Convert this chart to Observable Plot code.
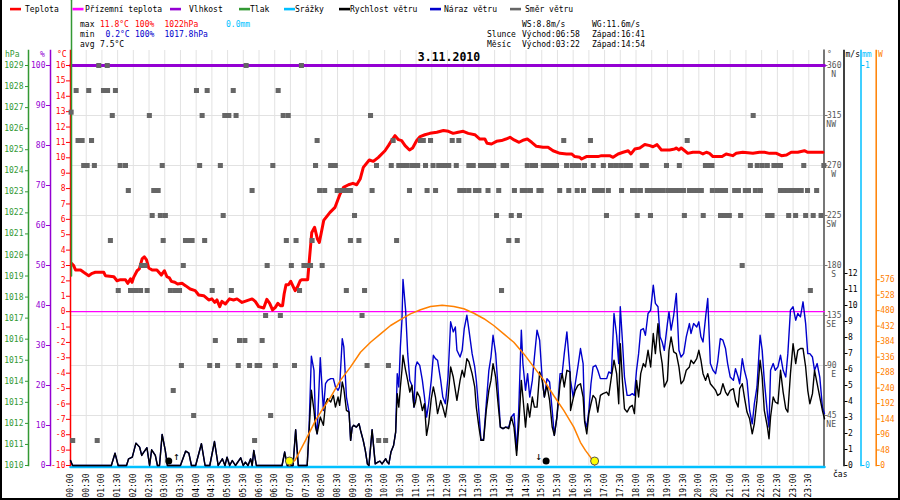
<!DOCTYPE html>
<html><head><meta charset="utf-8">
<script src="https://cdn.jsdelivr.net/npm/d3@7"></script>
<script src="https://cdn.jsdelivr.net/npm/@observablehq/plot@0.6"></script>
<style>
body{margin:0;background:#fff;}
#wrap{position:relative;width:900px;height:500px;overflow:hidden;background:#fff;}
#wrap > svg{position:absolute;left:0;top:0;}
#border{position:absolute;left:0;top:0;width:896px;height:498px;border-left:2px solid #000;border-right:2px solid #000;border-bottom:2px solid #000;pointer-events:none;}
</style></head><body><div id="wrap"><div id="border"></div></div>
<script>
// ---------------- DATA ----------------
const tickHours = [0,0.5,1,1.5,2,2.5,3,3.5,4,4.5,5,5.5,6,6.5,7,7.5,8,8.5,9,9.5,10,10.5,11,11.5,12,12.5,13,13.5,14,14.5,15,15.5,16,16.5,17,17.5,18,18.5,19,19.5,20,20.5,21,21.5,22,22.5,23,23.5];
const timeLabels = ["00:00","00:30","01:00","01:30","02:00","02:30","03:00","03:30","04:00","04:30","05:00","05:30","06:00","06:30","07:00","07:30","08:00","08:30","09:00","09:30","10:00","10:30","11:00","11:30","12:00","12:30","13:00","13:30","14:00","14:30","15:00","15:30","16:00","16:30","17:00","17:30","18:00","18:30","19:00","19:30","20:00","20:30","21:00","21:30","22:00","22:30","23:00","23:30"];
const tempTicks = [-10,-9,-8,-7,-6,-5,-4,-3,-2,-1,0,1,2,3,4,5,6,7,8,9,10,11,12,13,14,15,16];
const humTicks = [0,10,20,30,40,50,60,70,80,90,100];
const pressTicks = [1010,1011,1012,1013,1014,1015,1016,1017,1018,1019,1020,1021,1022,1023,1024,1025,1026,1027,1028,1029];
const dirTicks = [45,90,135,180,225,270,315,360];
const dirNames = ["NE","E","SE","S","SW","W","NW","N"];
const speedTicks = [0,1,2,3,4,5,6,7,8,9,10,11,12];
const precipTicks = [0,1];
const solarTicks = [0,48,96,144,192,240,288,336,384,432,480,528,576];

// temperature (°C)
const tempHour = [
0.03,0.10,0.16,0.32,0.42,0.58,0.69,0.79,1.06,1.11,
1.38,1.48,1.59,1.75,1.82,1.91,1.96,2.01,2.12,2.19,
2.28,2.35,2.42,2.49,2.60,2.75,2.89,2.99,3.07,3.15,
3.21,3.32,3.41,3.55,3.66,3.81,3.97,4.08,4.24,4.40,
4.50,4.59,4.66,4.75,4.82,4.93,5.06,5.19,5.30,5.46,
5.62,5.78,5.88,5.99,6.15,6.25,6.34,6.43,6.52,6.60,
6.68,6.75,6.80,6.86,6.94,7.01,7.10,7.15,7.23,7.31,
7.36,7.55,7.61,7.68,7.77,7.86,7.92,8.00,8.06,8.26,
8.42,8.58,8.69,8.85,8.99,9.11,9.22,9.32,9.51,9.64,
9.80,10.01,10.12,10.22,10.33,10.44,10.54,10.65,10.79,10.89,
11.02,11.13,11.28,11.44,11.66,11.87,12.03,12.18,12.34,12.50,
12.66,12.87,13.03,13.19,13.26,13.40,13.56,13.72,13.86,13.99,
14.12,14.28,14.43,14.54,14.68,14.83,15.04,15.20,15.36,15.58,
15.79,15.95,16.05,16.21,16.27,16.42,16.79,16.90,17.16,17.27,
17.43,17.59,17.75,17.84,17.96,18.12,18.28,18.44,18.54,18.67,
18.81,19.07,19.23,19.28,19.37,19.44,19.55,19.65,19.81,20.02,
20.13,20.24,20.34,20.45,20.74,20.87,21.08,21.19,21.40,21.72,
21.93,22.09,22.25,22.47,22.63,22.79,22.94,23.15,23.36,23.47,
23.95];
const tempC = [
3.14,2.99,2.71,2.71,2.56,2.34,2.49,2.56,2.56,2.34,
2.27,2.01,2.08,2.08,1.84,2.13,1.91,2.23,2.66,2.78,
3.43,3.57,3.36,2.84,2.71,2.71,2.38,2.66,2.27,2.19,
1.97,1.91,1.80,1.84,1.69,1.47,1.37,1.08,1.04,0.76,
0.83,0.60,0.76,0.33,0.67,0.50,0.83,0.76,0.83,0.60,
0.72,0.83,0.67,0.33,0.24,0.80,0.54,0.11,0.28,0.54,
0.39,0.39,1.15,1.75,1.75,1.97,1.58,1.37,1.63,2.01,
2.08,2.08,3.53,5.15,5.48,4.72,4.50,5.31,5.93,6.45,
6.78,7.65,8.08,8.25,8.34,8.25,8.62,9.38,9.86,9.77,
10.03,10.46,10.79,11.12,11.44,11.18,11.12,10.79,10.51,10.64,
11.12,11.38,11.50,11.59,11.66,11.77,11.72,11.59,11.66,11.72,
11.59,11.50,11.22,11.22,10.94,10.90,11.07,11.12,11.22,11.33,
11.16,11.01,11.16,11.22,11.01,10.75,10.68,10.68,10.46,10.29,
10.25,10.25,10.08,10.03,9.92,10.08,10.08,10.14,10.14,10.03,
10.25,10.36,10.46,10.25,10.57,10.64,10.86,10.79,10.72,10.86,
10.51,10.51,10.57,10.64,10.51,10.64,10.46,10.29,10.36,10.36,
10.25,10.36,10.29,10.08,10.08,10.25,10.14,10.29,10.36,10.29,
10.36,10.36,10.29,10.29,10.14,10.18,10.36,10.36,10.46,10.36,
10.36];

// ground temperature, humidity, precipitation (flat all day), pressure trace
const flatHours = [0, 24];
const groundTempC = [0, 0];
const humidityPct = [100, 100];
const precipMm = [0, 0];
const pressureHour = [0, 0];
const pressureHPa = [1019.0, 1032.1];

// wind speed / gust (m/s), time in minutes
const windMinute = [
0,4,78,85,91,107,111,118,125,132,
136,140,146,151,155,162,166,170,175,181,
185,210,220,226,231,239,250,257,266,275,
282,290,295,299,304,309,315,325,330,334,
339,344,347,350,355,404,409,414,425,430,
435,452,455,460,465,468,471,
477,483,487,491,497,502,506,511,514,519,
522,527,532,535,538,541,546,551,554,559,
563,567,570,576,579,582,587,591,595,602,
605,608,612,617,621,624,627,630,633,635,
640,644,648,652,656,659,662,667,672,676,
680,684,689,693,697,701,707,711,716,721,
726,731,735,738,744,748,752,757,761,767,
772,775,780,784,789,794,799,803,807,812,
816,821,826,831,837,842,847,852,856,861,
864,869,873,877,882,886,891,896,901,905,
910,915,920,924,929,935,939,943,948,954,
955,960,964,969,974,979,982,986,990,994,
998,1003,1007,1012,1017,1024,1028,1033,1038,1043,
1047,1050,1054,1058,1063,1068,1073,1077,1081,1085,
1089,1094,1098,1103,1108,1113,1117,1122,1126,1130,
1134,1140,1143,1147,1152,1157,1162,1166,1171,1176,
1182,1185,1190,1196,1200,1204,1208,1213,1217,1222,
1227,1232,1236,1241,1246,1251,1255,1260,1266,1270,
1275,1278,1283,1287,1292,1297,1302,1306,1311,1317,
1321,1325,1331,1334,1337,1342,1346,1351,1356,1361,
1366,1370,1375,1380,1385,1389,1394,1399,1404,1408,
1412,1417,1421,1426,1431,1436,1440];
const windSpeed = [
0.31,0,0,0.77,0,0,0.42,0.52,1.40,1.15,
0.63,0.84,1.11,0,0.98,0.63,0,0,1.94,0.94,
0,0,0.90,0.77,0,0,1.36,0,0,1.50,
0,0.42,0,0.52,0,0.31,0,0.48,0,0.21,
0,0.42,0,0.94,0,0,0.84,0,0,2.23,
0,0,1.77,4.70,3.44,2.40,1.98,
3.03,2.51,3.86,4.18,3.97,4.38,3.65,4.28,3.76,5.22,
4.80,3.44,3.34,1.57,2.40,2.51,2.40,2.61,2.19,1.57,
0.94,0.10,0,2.23,1.15,0.10,0.21,0.27,0.10,0.42,
0.21,0.10,0.84,1.25,2.09,4.49,3.65,4.91,5.95,6.89,
5.95,5.32,4.59,5.01,3.65,3.97,4.59,4.28,3.44,3.86,
1.88,2.61,4.18,4.91,4.28,3.24,4.07,3.65,3.03,4.18,
6.16,5.53,4.70,4.07,5.32,5.95,5.53,6.68,6.47,5.74,
4.91,3.65,2.40,1.57,1.57,3.44,4.70,5.32,6.37,5.53,
4.07,2.40,2.30,2.40,2.30,3.03,2.40,0.63,2.40,5.32,
4.28,2.40,3.86,3.03,4.28,3.65,3.65,5.85,5.32,4.28,
5.01,4.07,2.40,1.88,3.03,5.11,5.74,4.91,5.95,5.85,
3.44,4.18,4.70,5.01,5.11,4.28,2.71,1.98,3.24,3.86,
4.38,4.18,3.34,4.38,4.49,4.59,4.38,5.53,6.58,5.74,
3.86,7.62,5.32,3.55,3.34,3.65,3.76,3.24,5.32,4.28,
5.74,6.37,6.16,7.20,6.16,8.25,6.99,8.87,7.20,6.37,
4.91,5.32,7.20,8.04,7.10,6.99,6.16,5.11,5.32,5.95,
6.16,6.58,6.37,6.68,7.20,6.58,5.74,5.32,5.74,5.11,
4.91,4.70,4.38,4.49,5.11,4.59,4.38,4.70,4.80,4.07,
3.65,4.80,5.11,4.28,3.34,2.92,1.98,2.61,4.07,6.58,
5.53,3.44,2.40,1.67,3.03,4.28,3.97,3.86,5.95,4.59,
3.55,3.34,5.74,7.62,6.37,7.20,7.31,7.31,6.16,4.70,
3.86,4.49,5.95,5.11,4.28,3.44,2.92];
const windGust = [
0.31,0,0,0.77,0,0,0.42,0.52,1.40,1.15,
0.63,0.84,1.11,0,0.98,0.63,0,0,1.94,0.94,
0,0,0.90,0.77,0,0,1.36,0,0,1.50,
0,0.42,0,0.52,0,0.31,0,0.48,0,0.21,
0,0.42,0,0.94,0,0,0.84,0,0,2.23,
0,0,1.77,6.83,5.95,2.61,1.98,
6.74,3.44,5.11,5.32,5.43,5.43,4.91,4.70,4.91,7.93,
7.41,4.28,3.34,1.57,2.40,2.51,2.40,2.61,2.19,1.57,
0.94,0.10,0,2.23,1.15,0.10,0.21,0.27,0.10,0.42,
0.21,0.10,0.84,1.25,2.09,5.74,4.91,7.41,9.08,11.63,
9.71,6.99,5.32,5.01,3.65,6.16,6.47,6.26,5.32,4.28,
3.03,3.86,5.32,6.89,6.68,6.58,5.32,4.28,3.86,5.53,
8.98,8.35,8.66,7.20,6.78,7.20,8.56,9.39,8.46,6.99,
6.16,5.32,3.34,1.57,1.67,3.86,5.95,6.78,8.14,6.99,
5.11,2.40,2.30,2.40,2.40,3.03,3.24,0.94,3.44,8.46,
6.37,4.70,5.74,4.28,5.32,6.78,8.46,7.83,5.32,4.28,
5.43,5.22,3.44,1.88,3.03,5.74,5.74,6.99,8.35,5.85,
5.32,4.28,5.11,6.16,7.31,6.37,2.82,2.40,3.44,5.11,
6.16,6.26,5.95,5.43,5.43,5.43,5.85,5.74,9.50,8.14,
6.37,9.92,7.83,5.53,4.38,4.38,4.49,4.38,5.95,6.99,
8.46,8.56,8.14,9.50,9.71,11.27,10.13,9.92,8.04,7.72,
7.20,8.87,9.60,8.46,9.39,10.75,7.20,6.78,6.99,8.04,
8.87,8.25,8.87,8.66,8.98,8.04,7.72,9.29,10.44,6.37,
5.95,5.74,6.47,7.93,7.83,7.31,6.37,5.53,5.32,6.05,
5.53,5.11,6.68,5.95,5.32,3.44,2.61,3.86,4.91,8.14,
7.20,5.32,3.24,2.40,5.95,6.37,5.95,6.16,6.89,5.95,
5.53,6.99,9.71,9.92,9.08,9.50,9.29,10.23,8.87,6.99,
6.99,6.78,5.95,6.37,5.53,3.65,3.24];

// wind direction readings: [degrees, hours]
const dirGroups = [
 [360, [0.90,1.17,5.59,7.35]],
 [337.5, [0.18,0.58,1.05,1.18,1.43,4.01,4.35,5.18,6.61]],
 [318, [0.02]],
 [315, [1.33,2.51,4.19,4.91,5.04,5.27,6.77,6.93,9.55,21.73]],
 [292.5, [0.24,0.37,0.67,7.85,10.27,11.14,11.23,11.46,12.15,12.36,15.70,16.55,19.63]],
 [270, [0.42,0.53,0.76,1.58,1.75,2.92,4.11,4.77,6.44,7.80,8.28,8.43,9.74,10.21,10.45,10.58,10.72,10.88,10.98,11.05,11.30,11.54,11.72,11.83,11.94,12.04,12.28,12.68,12.82,13.05,13.21,13.37,13.47,13.77,13.88,14.54,14.70,14.80,15.05,15.18,15.32,15.47,15.79,15.97,16.07,16.18,16.36,16.64,16.96,17.19,17.35,17.51,17.67,17.82,18.20,18.33,18.97,19.38,20.21,20.32,20.42,21.64,21.86,22.02,22.18,22.39,22.49,22.60,23.34,23.98]],
 [247.5, [1.84,2.65,2.79,5.78,7.93,8.09,8.49,8.63,8.76,8.91,9.60,10.79,11.35,11.62,12.39,12.53,12.68,12.89,13.00,13.29,13.63,14.13,14.38,14.48,14.64,14.91,14.98,15.57,15.86,16.13,16.33,16.68,16.81,16.93,17.12,17.54,17.89,17.98,18.14,18.36,18.49,18.62,18.75,18.87,19.03,19.16,19.29,19.41,19.51,19.70,19.83,19.96,20.08,20.43,20.59,20.72,20.85,21.14,21.26,21.48,21.58,21.80,21.96,22.60,22.72,22.85,22.98,23.11,23.26,23.46,23.75]],
 [225, [2.60,2.86,3.02,4.86,9.04,13.56,14.03,14.29,17.06,18.04,18.46,19.54,20.14,20.69,20.82,20.97,21.33,22.19,22.33,22.86,23.08,23.40,23.64,23.89]],
 [202.5, [1.27,2.95,3.66,3.77,3.87,4.27,6.87,7.18,7.69,8.91,9.18,10.38,13.95,14.22]],
 [180, [2.26,2.37,3.59,6.26,7.03,7.43,7.53,7.64,8.01,21.38]],
 [157.5, [1.52,1.91,2.07,2.23,2.44,3.18,3.34,3.47,4.51,5.12,7.29,8.78,9.36,13.72,23.55]],
 [135, [6.21,6.68,9.28]],
 [112.5, [4.61,5.38,5.55,6.10]],
 [90, [3.53,4.43,4.68,5.34,5.70,5.94,6.02,6.52,7.13,9.44,10.12]],
 [67.5, [3.27]],
 [45, [3.92,6.37]],
 [22.5, [0.07,0.85,5.86,9.81,10.03]]
];

// solar radiation curve (W/m²)
const solarHour = [6.967,7.16,7.48,7.80,7.96,8.28,8.59,8.91,9.23,9.55,9.87,10.19,10.50,10.82,11.14,11.46,11.83,12.20,12.52,12.84,13.16,13.47,13.79,14.11,14.43,14.75,15.07,15.38,15.70,16.02,16.23,16.39,16.55,16.683];
const solarWatt = [0,18,78,140,165,212,264,305,351,382,408,434,452,470,483,493,497,493,486,472,455,434,408,382,346,305,264,217,171,119,72,47,26,0];

// sun (rise, set) and moon (rise, set) in hours
const sunHours = [6.967, 16.683];
const moonHours = [3.367, 14.9];
const moonSymbols = ["↑", "↓"];

// ---------------- TABLES ----------------
const tempTable = tempHour.map((h, i) => ({h, v: tempC[i]}));
const groundTable = flatHours.map((h, i) => ({h, v: groundTempC[i]}));
const humTable = flatHours.map((h, i) => ({h, v: humidityPct[i]}));
const precipTable = flatHours.map((h, i) => ({h, v: precipMm[i]}));
const pressTable = pressureHour.map((h, i) => ({h, v: pressureHPa[i]}));
const windTable = windMinute.map((m, i) => ({h: m / 60, s: windSpeed[i], g: windGust[i]}));
const dirTable = dirGroups.flatMap(([d, hs]) => hs.map(h => ({h, d})));
const solarTable = solarHour.map((h, i) => ({h, v: solarWatt[i]}));
const moonTable = moonHours.map((h, i) => ({h, sym: moonSymbols[i]}));

// ---------------- DRAW ----------------
const wrap = document.getElementById("wrap");
const border = document.getElementById("border");
const FONT = '"DejaVu Sans Mono", monospace';
const X = () => ({domain: [0, 24], range: [70, 824], axis: null});
const Y = (domain) => ({domain, range: [465, 65], axis: null});
function mk(opts) {
  const el = Plot.plot(Object.assign({
    width: 900, height: 500, marginTop: 50, marginBottom: 35, marginLeft: 70, marginRight: 76,
    style: {background: "transparent", fontFamily: FONT, fontSize: "8px", overflow: "visible"}
  }, opts));
  wrap.insertBefore(el, border);
}
const num = d => String(d);

// grid + wind direction axis
mk({marginRight: 76.5, x: X(), y: Y([0, 360]), marks: [
  Plot.gridX(tickHours.slice(1), {stroke: "#e2e2e2", strokeOpacity: 1}),
  Plot.gridY(dirTicks.slice(0, 7), {stroke: "#e2e2e2", strokeOpacity: 1}),
  Plot.frame({anchor: "right", stroke: "#777", strokeWidth: 2}),
  Plot.axisY(dirTicks, {anchor: "right", tickSize: 3, tickPadding: 0, tickFormat: num, fill: "#555", stroke: "#777", label: null}),
  Plot.axisY(dirTicks, {anchor: "right", tickSize: 0, tickPadding: 12, textAnchor: "end", tickFormat: d => dirNames[dirTicks.indexOf(d)], fill: "#555", dy: 8.5, label: null})
]});
// humidity
mk({marginLeft: 50, x: X(), y: Y([0, 100]), marks: [
  Plot.line(humTable, {x: "h", y: "v", stroke: "#9400d3", strokeWidth: 3}),
  Plot.frame({anchor: "left", stroke: "#9400d3", strokeWidth: 1.5}),
  Plot.axisY(humTicks, {anchor: "left", tickSize: 4, tickPadding: 1, tickFormat: num, fill: "#9400d3", stroke: "#9400d3", label: null})
]});
// precipitation
mk({marginRight: 39.5, x: X(), y: Y([0, 1]), marks: [
  Plot.line(precipTable, {x: "h", y: "v", stroke: "#00bfff", strokeWidth: 2.5, dy: 1.5}),
  Plot.frame({anchor: "right", stroke: "#00bfff", strokeWidth: 1.5}),
  Plot.axisY(precipTicks, {anchor: "right", tickSize: 3, tickPadding: 1, tickFormat: num, fill: "#00bfff", stroke: "#00bfff", label: null})
]});
// temperature
mk({x: {domain: [0, 24], range: [70, 824]}, y: Y([-10, 16]), marks: [
  Plot.line(groundTable, {x: "h", y: "v", stroke: "#ff00ff", strokeWidth: 1.3}),
  Plot.line(tempTable, {x: "h", y: "v", stroke: "#ff0000", strokeWidth: 3, strokeLinejoin: "round"}),
  Plot.frame({anchor: "left", stroke: "#ff0000", strokeWidth: 1.5}),
  Plot.axisY(tempTicks, {anchor: "left", tickSize: 4, tickPadding: 1, tickFormat: num, fill: "#ff0000", stroke: "#ff0000", label: null}),
  Plot.axisX(tickHours, {anchor: "bottom", tickSize: 0, tickPadding: 8, tickRotate: -90, tickFormat: d => timeLabels[tickHours.indexOf(d)], fill: "#000", label: null})
]});
// pressure
mk({marginLeft: 28, x: X(), y: Y([1010, 1029]), marks: [
  Plot.line(pressTable, {x: "h", y: "v", stroke: "#339933", strokeWidth: 1.5, dx: 1}),
  Plot.frame({anchor: "left", stroke: "#339933", strokeWidth: 1.5}),
  Plot.axisY(pressTicks, {anchor: "left", tickSize: 3, tickPadding: 2, tickFormat: num, fill: "#339933", stroke: "#339933", label: null})
]});
// wind speed + gust
mk({marginRight: 56.5, x: X(), y: Y([0, 25]), marks: [
  Plot.line(windTable, {x: "h", y: "g", stroke: "#0000cc", strokeWidth: 1.4}),
  Plot.line(windTable, {x: "h", y: "s", stroke: "#000", strokeWidth: 1.4}),
  Plot.text(moonTable, {x: "h", text: "sym", frameAnchor: "bottom", dy: -6, fontSize: 11, fill: "#000"}),
  Plot.dot(moonTable.slice(0, 1), {x: "h", frameAnchor: "bottom", dy: -4.5, dx: -7.5, r: 3.5, fill: "#000"}),
  Plot.dot(moonTable.slice(1), {x: "h", frameAnchor: "bottom", dy: -4.5, dx: 7.5, r: 3.5, fill: "#000"}),
  Plot.frame({anchor: "right", stroke: "#000", strokeWidth: 1.5}),
  Plot.axisY(speedTicks, {anchor: "right", tickSize: 3, tickPadding: 1, tickFormat: num, fill: "#000", stroke: "#000", label: null})
]});
// solar
mk({marginRight: 24.3, x: X(), y: Y([0, 1240]), marks: [
  Plot.line(solarTable, {x: "h", y: "v", stroke: "#ff8000", strokeWidth: 1.5}),
  Plot.dot(sunHours, {x: d => d, frameAnchor: "bottom", dy: -4.5, r: 4, fill: "#ffff00", stroke: "#555", strokeWidth: 1}),
  Plot.frame({anchor: "right", stroke: "#ff8000", strokeWidth: 1.5}),
  Plot.axisY(solarTicks, {anchor: "right", tickSize: 3, tickPadding: 1, tickFormat: num, fill: "#ff8000", stroke: "#ff8000", label: null})
]});
// wind direction squares
mk({marginRight: 76.5, x: X(), y: Y([0, 360]), marks: [
  Plot.dot(dirTable, {x: "h", y: "d", symbol: "square", r: 2.85, fill: "#666"})
]});

// ---------------- HEADER TEXT ----------------
const hdr = d3.create("svg").attr("width", 900).attr("height", 500)
  .style("font-family", FONT).style("font-size", "8px");
function t(x, y, s, fill = "#000", anchor = "start") {
  return hdr.append("text").attr("x", x).attr("y", y).attr("fill", fill).attr("text-anchor", anchor).text(s);
}
const legendNames = ["Teplota","Přízemní teplota","Vlhkost","Tlak","Srážky","Rychlost větru","Náraz větru","Směr větru"];
const legendColors = ["#ff0000","#ff00ff","#9400d3","#339933","#00bfff","#000000","#0000cc","#666666"];
const legendDashX = [10, 72.5, 170, 239, 284, 339, 430, 510];
const legendTextX = [25, 85, 189, 250, 295, 350, 444, 525];
legendNames.forEach((n, i) => {
  hdr.append("rect").attr("x", legendDashX[i]).attr("y", 7.8).attr("width", 11).attr("height", 2.6).attr("fill", legendColors[i]);
  t(legendTextX[i], 11.8, n);
});
t(80, 27, "max"); t(100, 27, "11.8°C", "#ff0000"); t(135, 27, "100%", "#ff0000"); t(164.5, 27, "1022hPa", "#ff0000"); t(226, 27, "0.0mm", "#00bfff");
t(80, 37, "min"); t(105.5, 37, "0.2°C", "#0000cc"); t(135, 37, "100%", "#0000cc"); t(164.5, 37, "1017.8hPa", "#0000cc");
t(80, 46.5, "avg"); t(100, 46.5, "7.5°C");
t(522, 27, "WS:8.8m/s"); t(592, 27, "WG:11.6m/s");
t(487, 37, "Slunce"); t(522, 37, "Východ:06:58"); t(592, 37, "Západ:16:41");
t(487, 46.5, "Měsíc"); t(522, 46.5, "Východ:03:22"); t(592, 46.5, "Západ:14:54");
t(449, 60.5, "3.11.2010", "#000", "middle").attr("font-weight", "bold").attr("font-size", "11.5px");
t(5, 57, "hPa", "#339933"); t(40, 57, "%", "#9400d3"); t(57, 57, "°C", "#ff0000");
t(827, 57, "°", "#555"); t(845.5, 57, "m/s"); t(862, 57, "mm", "#00bfff"); t(878, 57, "W", "#ff8000");
t(833, 477, "čas");
wrap.insertBefore(hdr.node(), border);
</script></body></html>
